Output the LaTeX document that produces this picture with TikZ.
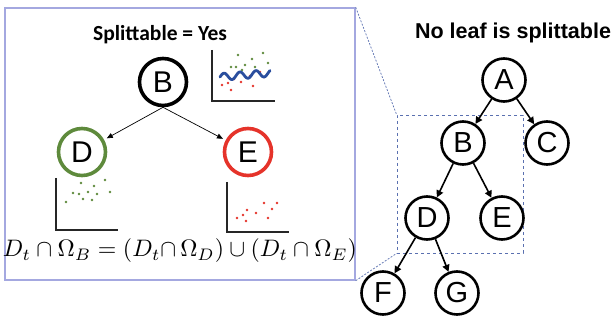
\documentclass[tikz,border=0pt]{standalone}
\usepackage{fontspec}
\setmainfont{Liberation Sans}
\newfontfamily\calib{Carlito}
\usetikzlibrary{arrows.meta,calc}
\definecolor{boxblue}{HTML}{A4A8E0}
\definecolor{dashblue}{HTML}{5A70B0}
\definecolor{dgreen}{HTML}{5E8A3C}
\definecolor{dred}{HTML}{E5332A}
\definecolor{wavblue}{HTML}{2A4E9E}
\tikzset{
  tnode/.style={circle,draw=black,line width=2.6pt,minimum size=43pt,inner sep=0pt,font=\fontsize{29}{29}\selectfont},
  lnode/.style={circle,line width=3.6pt,minimum size=47pt,inner sep=0pt,font=\fontsize{30}{30}\selectfont},
  tarrow/.style={-{Triangle[length=7pt,width=7pt]},line width=1.6pt},
  larrow/.style={-{Triangle[length=6pt,width=5pt]},line width=0.7pt},
  axis/.style={line width=1.2pt,black!85},
  gdot/.style={fill=dgreen},
  rdot/.style={fill=dred},
  link/.style={dashblue,dash pattern=on 2pt off 1.5pt,line width=0.7pt}
}
\begin{document}
\begin{tikzpicture}[x=1pt,y=-1pt]
\useasboundingbox (0,0) rectangle (616,323);
% left panel box
\node[draw=boxblue,line width=1.4pt,minimum width=350pt,minimum height=272pt,inner sep=0pt] (panel) at (180,144) {};
% zoom rectangle
\node[draw=dashblue,dashed,line width=0.8pt,minimum width=126pt,minimum height=138pt,inner sep=0pt] (zoomr) at (460,184) {};
\draw[link] (panel.north east) -- (zoomr.north west);
\draw[link] (panel.south east) -- (zoomr.south west);

% right tree
\node[font=\bfseries\fontsize{21.5}{22}\selectfont] (ttl) at (513,33) {No leaf is splittable};
\node[tnode] (A) at (504,80) {A};
\node[tnode] (B) at (463,143) {B};
\node[tnode] (C) at (547,143) {C};
\node[tnode] (D) at (427,218) {D};
\node[tnode] (E) at (502,218) {E};
\node[tnode] (F) at (383,293) {F};
\node[tnode] (G) at (457,293) {G};
\draw[tarrow] (A) -- (B);
\draw[tarrow] (A) -- (C);
\draw[tarrow] (B) -- (D);
\draw[tarrow] (B) -- (E);
\draw[tarrow] (D) -- (F);
\draw[tarrow] (D) -- (G);

% left panel content
\node[font=\calib\bfseries\fontsize{21.5}{22}\selectfont] (spl) at (160,35) {Splittable = Yes};
\node[lnode,draw=black] (lB) at (163,82) {B};
\node[lnode,draw=dgreen] (lD) at (82,152) {D};
\node[lnode,draw=dred] (lE) at (248,152) {E};
\draw[larrow,shorten >=3pt] (lB.south) -- (lD);
\draw[larrow,shorten >=3pt] (lB.south) -- (lE);

% plot B
\draw[axis] (212,50) -- (212,101) -- (275,101);
\foreach \p in {(238,55),(252,59),(263,53),(231,67),(236,67),(245,65),(255,67),(268,63),(223,74),(242,70)}
  \fill[gdot] \p circle (1.4pt);
\foreach \p in {(222,85),(228,83),(231,90),(241,82),(253,86),(260,72),(250,76),(234,79),(264,77)}
  \fill[rdot] \p circle (1.4pt);
\draw[wavblue,line width=2.8pt,line cap=round] plot[domain=0:50,samples=80,smooth] ({220+\x},{77-0.08*\x-3.5*sin(\x*22.5)});

% plot D
\draw[axis] (56,178) -- (56,230) -- (118,230);
\foreach \p in {(81,183),(105,180),(94,186),(73,193),(79,194),(88,192),(97,194),(110,192),(83,199),(92,200),(66,202)}
  \fill[gdot] \p circle (1.4pt);

% plot E
\draw[axis] (227,182) -- (227,232) -- (289,232);
\foreach \p in {(264,203),(277,203),(272,209),(247,210),(256,213),(243,215),(237,218),(268,218),(246,221)}
  \fill[rdot] \p circle (1.4pt);

% equation
\node[anchor=base,inner sep=0pt] (eq) at (180,257) {\resizebox{354pt}{!}{$D_t\cap\Omega_B=(D_t{\cap}\,\Omega_D)\cup(D_t\cap\Omega_E)$}};
\end{tikzpicture}
\end{document}
